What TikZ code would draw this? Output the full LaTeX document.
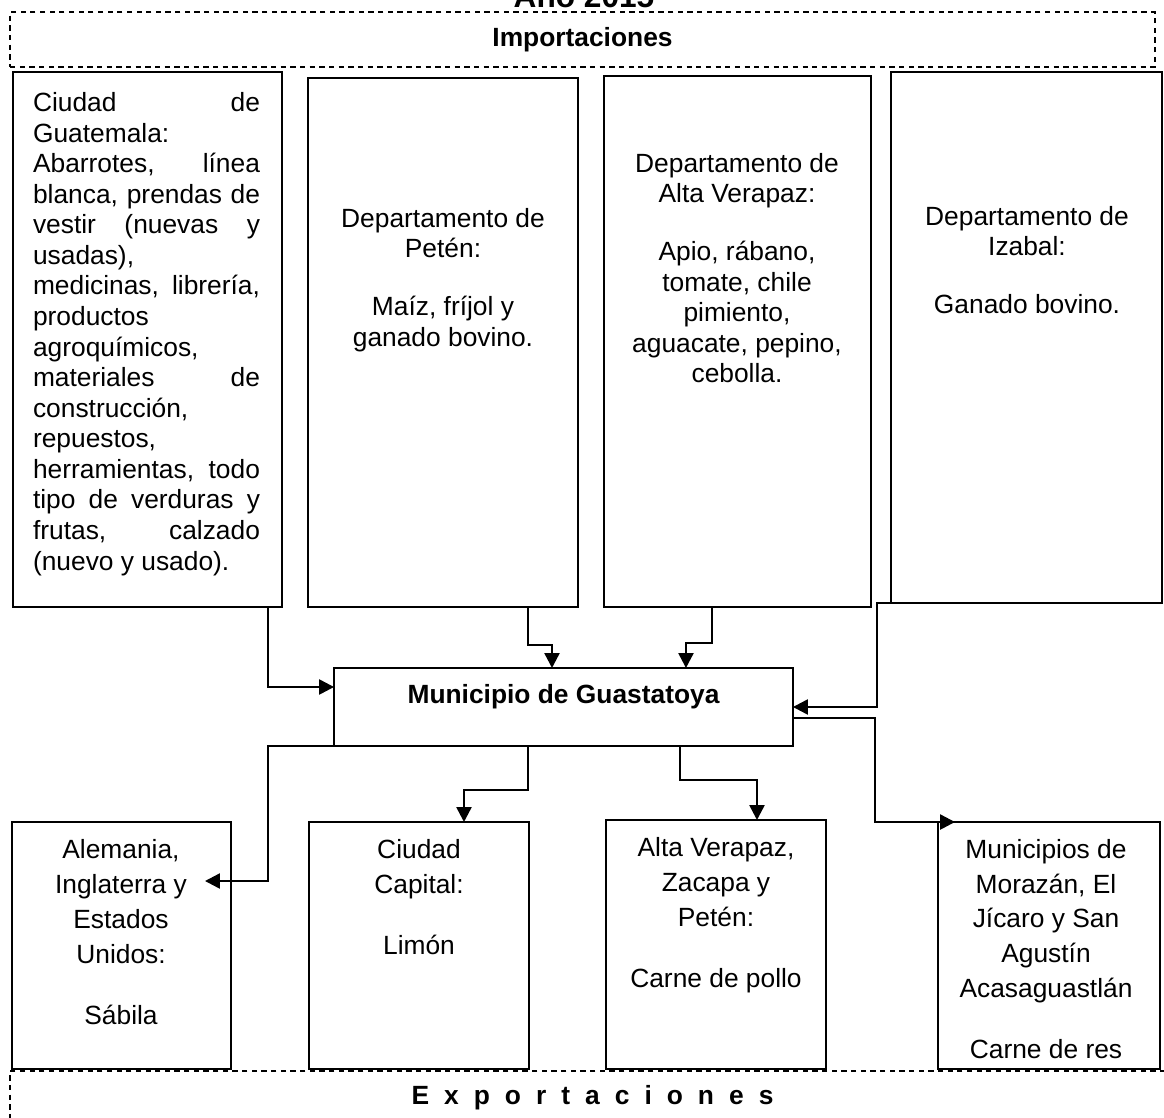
\documentclass[tikz,border=0pt]{standalone}
\usepackage{fontspec}
\setmainfont{Liberation Sans}
\usetikzlibrary{arrows.meta}
\newcommand{\jline}[1]{\makebox[4.54cm][s]{#1}}
\begin{document}
\begin{tikzpicture}[x=0.02cm,y=-0.02cm,
  box/.style={draw,line width=1.5pt,inner sep=0pt,outer sep=0pt},
  frame/.style={draw,dash pattern=on 3pt off 2.5pt,line width=1.2pt,inner sep=0pt,outer sep=0pt},
  txt/.style={align=center,font=\fontsize{15}{17.4}\selectfont,inner sep=0pt},
  txtb/.style={align=center,font=\fontsize{15}{19.8}\selectfont,inner sep=0pt},
  arr/.style={line width=1.4pt,-{Triangle[length=8.5pt,width=8.5pt]}}]
\useasboundingbox (0,0) rectangle (1164,1118);
\node[font=\fontsize{18}{20}\selectfont\bfseries,anchor=base] (anio) at (584,8) {Año 2015};
\node[frame,minimum width=22.9cm,minimum height=1.1cm,font=\fontsize{15}{17.4}\selectfont\bfseries] (imp) at (582.5,39.5) {Importaciones};
\node[box,minimum width=5.38cm,minimum height=10.7cm] (i1) at (147.5,339.5) {};
\node[box,minimum width=5.4cm,minimum height=10.58cm] (i2) at (443,342.5) {};
\node[box,minimum width=5.34cm,minimum height=10.62cm] (i3) at (737.5,341.5) {};
\node[box,minimum width=5.42cm,minimum height=10.62cm] (i4) at (1026.5,337.5) {};
\node[txt,align=left] (t1) at (146.5,334) {\jline{Ciudad de}\\Guatemala:\\\jline{Abarrotes, línea}\\\jline{blanca, prendas de}\\\jline{vestir (nuevas y}\\usadas),\\\jline{medicinas, librería,}\\productos\\agroquímicos,\\\jline{materiales de}\\construcción,\\repuestos,\\\jline{herramientas, todo}\\\jline{tipo de verduras y}\\\jline{frutas, calzado}\\(nuevo y usado).};
\node[txt] (t2) at (443,280) {Departamento de\\Petén:\\[15.5pt]Maíz, fríjol y\\ganado bovino.};
\node[txt] (t3) at (737,268) {Departamento de\\Alta Verapaz:\\[15.5pt]Apio, rábano,\\tomate, chile\\pimiento,\\aguacate, pepino,\\cebolla.};
\node[txt] (t4) at (1027,260) {Departamento de\\Izabal:\\[15.5pt]Ganado bovino.};
\node[box,minimum width=9.18cm,minimum height=1.56cm] (mun) at (563.5,707) {};
\node[font=\fontsize{15}{17.4}\selectfont\bfseries] (munt) at (563.5,697) {Municipio de Guastatoya};
\node[box,minimum width=4.38cm,minimum height=4.94cm] (e1) at (121.5,945.5) {};
\node[box,minimum width=4.4cm,minimum height=4.94cm] (e2) at (419,945.5) {};
\node[box,minimum width=4.4cm,minimum height=4.98cm] (e3) at (716,944.5) {};
\node[box,minimum width=4.44cm,minimum height=4.94cm] (e4) at (1049,945.5) {};
\node[txtb] (s1) at (121,932) {Alemania,\\Inglaterra y\\Estados\\Unidos:\\[15pt]Sábila};
\node[txtb] (s2) at (419,897) {Ciudad\\Capital:\\[15pt]Limón};
\node[txtb] (s3) at (716,915) {Alta Verapaz,\\Zacapa y\\Petén:\\[15pt]Carne de pollo};
\node[txtb] (s4) at (1046,949) {Municipios de\\Morazán, El\\Jícaro y San\\Agustín\\Acasaguastlán\\[15pt]Carne de res};
\node[frame,minimum width=23.3cm,minimum height=1.06cm,font=\fontsize{15}{17.4}\selectfont\bfseries] (exp) at (592.5,1097.5) {\spaceskip=0.57em E x p o r t a c i o n e s};
\draw[arr] ([xshift=-0.28cm]i1.south east) |- ([yshift=0.4cm]mun.west);
\draw[arr] ([xshift=-1cm]i2.south east) -- ++(0,-0.76cm) -| ([xshift=4.36cm]mun.north west);
\draw[arr] ([xshift=2.16cm]i3.south west) -- ++(0,-0.72cm) -| ([xshift=7.04cm]mun.north west);
\draw[arr] (i4.south west) -- ++(-0.28cm,0) |- (mun.east);
\draw[arr] (mun.south west) -- ++(-1.32cm,0) |- ([shift={(-0.52cm,1.29cm)}]e1.east);
\draw[arr] ([xshift=3.88cm]mun.south west) -- ++(0,-0.88cm) -| ([xshift=3.1cm]e2.north west);
\draw[arr] ([xshift=6.92cm]mun.south west) -- ++(0,-0.68cm) -| ([xshift=3.02cm]e3.north west);
\draw[arr] ([yshift=-0.22cm]mun.east) -| ([xshift=-1.26cm]e4.north west) -- ([xshift=0.34cm]e4.north west);
\end{tikzpicture}
\end{document}
